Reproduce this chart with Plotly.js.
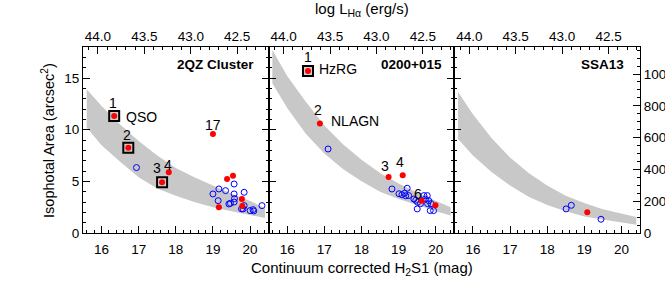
<!DOCTYPE html>
<html>
<head>
<meta charset="utf-8">
<script src="https://cdn.plot.ly/plotly-3.0.1.min.js"></script>
<style>html,body{margin:0;padding:0;background:#fff;}#chart{width:665px;height:285px;}</style>
</head>
<body>
<div id="chart"></div>
<script>
// ---------- data ----------
const bandMag = [15.6, 16.0, 16.5, 17.0, 17.5, 18.0, 18.5, 19.0, 19.5, 20.0, 20.4];

// Panel 1: 2QZ Cluster
const band1Upper = [13.9, 12.3, 10.5, 8.9, 7.5, 6.3, 5.4, 4.6, 3.8, 3.1, 2.4];
const band1Lower = [10.2, 8.5, 6.9, 5.4, 4.3, 3.6, 3.0, 2.5, 2.1, 1.7, 1.45];
const p1SquareMag = [16.34, 16.72, 17.63];
const p1SquareArea = [11.33, 8.26, 4.91];
const p1RedMag = [16.34, 16.72, 17.63, 17.81, 19.00, 19.38, 19.54, 19.16, 19.78, 19.79];
const p1RedArea = [11.33, 8.26, 4.91, 5.88, 9.59, 5.23, 5.55, 2.49, 3.30, 2.62];
const p1BlueMag = [16.94, 19.00, 19.14, 19.16, 19.34, 19.57, 19.57, 19.58, 19.57, 19.43, 19.47, 19.84, 19.84, 19.77, 19.81, 20.00, 20.08, 20.10, 20.32];
const p1BlueArea = [6.33, 3.78, 3.13, 4.26, 4.10, 4.74, 3.78, 3.33, 3.00, 2.81, 2.87, 3.94, 2.65, 2.33, 2.33, 2.17, 2.26, 2.13, 2.65];

// Panel 2: 0200+015
const band2Upper = [17.7, 15.2, 12.7, 10.4, 8.6, 7.1, 5.8, 4.8, 3.9, 3.1, 2.5];
const band2Lower = [14.5, 12.1, 9.6, 7.7, 6.2, 5.0, 4.0, 3.3, 2.7, 2.1, 1.7];
const p2SquareMag = [16.56];
const p2SquareArea = [15.68];
const p2RedMag = [16.56, 16.88, 18.73, 19.11, 19.62, 19.99];
const p2RedArea = [15.68, 10.59, 5.42, 5.59, 3.13, 2.68];
const p2BlueMag = [17.10, 18.82, 19.01, 19.09, 19.16, 19.23, 19.19, 19.27, 19.41, 19.46, 19.51, 19.50, 19.59, 19.68, 19.77, 19.72, 19.81, 19.78, 19.87, 19.85, 19.94];
const p2BlueArea = [8.13, 4.26, 3.80, 3.70, 3.85, 4.33, 3.60, 3.62, 3.29, 3.17, 2.97, 2.33, 2.84, 3.62, 3.62, 3.29, 3.13, 2.84, 2.84, 2.17, 2.17];

// Panel 3: SSA13
const band3Upper = [13.65, 11.5, 9.2, 7.3, 5.8, 4.6, 3.6, 2.9, 2.3, 1.85, 1.55];
const band3Lower = [9.1, 7.5, 5.9, 4.6, 3.5, 2.7, 2.1, 1.6, 1.3, 1.0, 0.8];
const p3RedMag = [19.08];
const p3RedArea = [2.0];
const p3BlueMag = [18.51, 18.65, 19.45];
const p3BlueArea = [2.33, 2.68, 1.33];

// axes
const magRange = [15.5, 20.5];
const lumRange = [44.161, 42.161];
const areaRange = [0, 18];
const kpcRange = [0, 1170];
const panelTitles = ['2QZ Cluster', '0200+015', 'SSA13'];

// ---------- styling ----------
const FONT = '"Liberation Sans", Arial, Helvetica, sans-serif';
const GRAY = 'rgb(200,200,200)';
const RED = 'rgb(255,0,0)';
const BLUE = 'rgb(0,0,255)';

function band(xa, ya, up, lo) {
  return [
    {x: bandMag, y: up, xaxis: xa, yaxis: ya, mode: 'lines', line: {width: 0, color: GRAY}, hoverinfo: 'skip', showlegend: false},
    {x: bandMag, y: lo, xaxis: xa, yaxis: ya, mode: 'lines', line: {width: 0, color: GRAY}, fill: 'tonexty', fillcolor: GRAY, hoverinfo: 'skip', showlegend: false}
  ];
}
function blue(xa, ya, x, y) {
  return {x: x, y: y, xaxis: xa, yaxis: ya, mode: 'markers', showlegend: false,
    marker: {symbol: 'circle-open', size: 6, color: BLUE, line: {width: 1, color: BLUE}}};
}
function red(xa, ya, x, y) {
  return {x: x, y: y, xaxis: xa, yaxis: ya, mode: 'markers', showlegend: false,
    marker: {symbol: 'circle', size: 6, color: RED, line: {width: 0}}};
}
function square(xa, ya, x, y) {
  return {x: x, y: y, xaxis: xa, yaxis: ya, mode: 'markers', showlegend: false,
    marker: {symbol: 'square', size: 10, color: 'rgb(205,205,205)', line: {width: 2, color: 'black'}}};
}

const traces = [].concat(
  band('x', 'y', band1Upper, band1Lower),
  band('x2', 'y2', band2Upper, band2Lower),
  band('x3', 'y3', band3Upper, band3Lower),
  [blue('x', 'y', p1BlueMag, p1BlueArea), square('x', 'y', p1SquareMag, p1SquareArea), red('x', 'y', p1RedMag, p1RedArea)],
  [blue('x2', 'y2', p2BlueMag, p2BlueArea), square('x2', 'y2', p2SquareMag, p2SquareArea), red('x2', 'y2', p2RedMag, p2RedArea)],
  [blue('x3', 'y3', p3BlueMag, p3BlueArea), red('x3', 'y3', p3RedMag, p3RedArea)],
  [
    {x: [], y: [], xaxis: 'x4', yaxis: 'y', showlegend: false},
    {x: [], y: [], xaxis: 'x5', yaxis: 'y2', showlegend: false},
    {x: [], y: [], xaxis: 'x6', yaxis: 'y3', showlegend: false},
    {x: [], y: [], xaxis: 'x3', yaxis: 'y4', showlegend: false}
  ]
);

const tickFont = {family: FONT, size: 13.5, color: 'black'};
function xBottom(domain) {
  return {domain: domain, range: magRange, showline: true, linecolor: 'black', linewidth: 1,
    ticks: 'inside', ticklen: 7, tickwidth: 1, tickcolor: 'black', dtick: 1, tick0: 16,
    minor: {dtick: 0.2, ticks: 'inside', ticklen: 3, tickcolor: 'black'},
    ticklabelstandoff: 4,
    showgrid: false, zeroline: false, tickfont: tickFont, mirror: false, fixedrange: true};
}
function xTop(over, anchor) {
  return {overlaying: over, anchor: anchor, side: 'top', range: lumRange, showline: true, linecolor: 'black', linewidth: 1,
    ticks: 'inside', ticklen: 7, tickwidth: 1, tickcolor: 'black', dtick: 0.5, tick0: 44, tickformat: '.1f',
    minor: {dtick: 0.1, ticks: 'inside', ticklen: 3, tickcolor: 'black'},
    showgrid: false, zeroline: false, tickfont: tickFont, fixedrange: true};
}
function yAx(anchor, labels, mirror) {
  return {anchor: anchor, range: areaRange, showline: true, linecolor: 'black', linewidth: 1,
    ticks: 'inside', ticklen: 7, tickwidth: 1, tickcolor: 'black', dtick: 5, tick0: 0,
    minor: {dtick: 1, ticks: 'inside', ticklen: 3, tickcolor: 'black'},
    showticklabels: labels, mirror: mirror, showgrid: false, zeroline: false, tickfont: tickFont, fixedrange: true};
}

const annFont = {family: FONT, size: 14, color: 'black'};
const titleFont = {family: FONT, size: 13.5, color: 'black', weight: 'bold'};
const axTitleFont = {family: FONT, size: 15, color: 'black'};
function ann(xr, yr, x, y, text, anchor, font) {
  return {xref: xr, yref: yr, x: x, y: y, text: text, showarrow: false, xanchor: anchor || 'center', yanchor: 'middle', font: font || annFont};
}

const annotations = [
  ann('x', 'y', 16.30, 12.6, '1'),
  ann('x', 'y', 16.60, 11.2, 'QSO', 'left'),
  ann('x', 'y', 16.69, 9.5, '2'),
  ann('x', 'y', 17.50, 6.33, '3'),
  ann('x', 'y', 17.79, 6.55, '4'),
  ann('x', 'y', 19.00, 10.5, '17'),
  ann('x', 'y', 20.17, 16.3, panelTitles[0], 'right', titleFont),
  ann('x2', 'y2', 16.57, 17.0, '1'),
  ann('x2', 'y2', 16.81, 15.9, 'HzRG', 'left'),
  ann('x2', 'y2', 16.83, 11.9, '2'),
  ann('x2', 'y2', 17.12, 10.85, 'NLAGN', 'left'),
  ann('x2', 'y2', 18.62, 6.45, '3'),
  ann('x2', 'y2', 19.03, 6.87, '4'),
  ann('x2', 'y2', 19.51, 3.8, '6'),
  ann('x2', 'y2', 20.23, 16.3, panelTitles[1], 'right', titleFont),
  ann('x3', 'y3', 20.12, 16.3, panelTitles[2], 'right', titleFont),
  {xref: 'paper', yref: 'paper', x: 0.5, y: -0.19, yanchor: 'middle', xanchor: 'center', showarrow: false,
    text: 'Continuum corrected H<sub>2</sub>S1 (mag)', font: axTitleFont},
  {xref: 'paper', yref: 'paper', x: 0.5, y: 1.2, yanchor: 'middle', xanchor: 'center', showarrow: false,
    text: 'log L<sub>Hα</sub> (erg/s)', font: axTitleFont},
  {xref: 'paper', yref: 'paper', x: -0.063, y: 0.5, xanchor: 'center', yanchor: 'middle', textangle: -90, showarrow: false,
    text: 'Isophotal Area (arcsec<sup>2</sup>)', font: {family: FONT, size: 14.5, color: 'black'}}
];

const layout = {
  width: 665, height: 285,
  margin: {l: 83, r: 25, t: 47, b: 52, pad: 0},
  paper_bgcolor: 'white', plot_bgcolor: 'white',
  showlegend: false,
  font: {family: FONT, size: 13, color: 'black'},
  xaxis: xBottom([0, 0.3333]),
  xaxis2: Object.assign(xBottom([0.3333, 0.6667]), {anchor: 'y2'}),
  xaxis3: Object.assign(xBottom([0.6667, 1]), {anchor: 'y3'}),
  xaxis4: xTop('x', 'y'),
  xaxis5: xTop('x2', 'y2'),
  xaxis6: xTop('x3', 'y3'),
  yaxis: yAx('x', true, 'ticks'),
  yaxis2: yAx('x2', false, 'ticks'),
  yaxis3: yAx('x3', false, false),
  yaxis4: {overlaying: 'y3', anchor: 'x3', side: 'right', range: kpcRange, showline: true, linecolor: 'black', linewidth: 1,
    ticks: 'inside', ticklen: 7, tickwidth: 1, tickcolor: 'black', dtick: 200, tick0: 0,
    minor: {dtick: 50, ticks: 'inside', ticklen: 3, tickcolor: 'black'},
    showgrid: false, zeroline: false, tickfont: tickFont, fixedrange: true},
  annotations: annotations
};

Plotly.newPlot('chart', traces, layout, {displayModeBar: false, staticPlot: true});
</script>
</body>
</html>
